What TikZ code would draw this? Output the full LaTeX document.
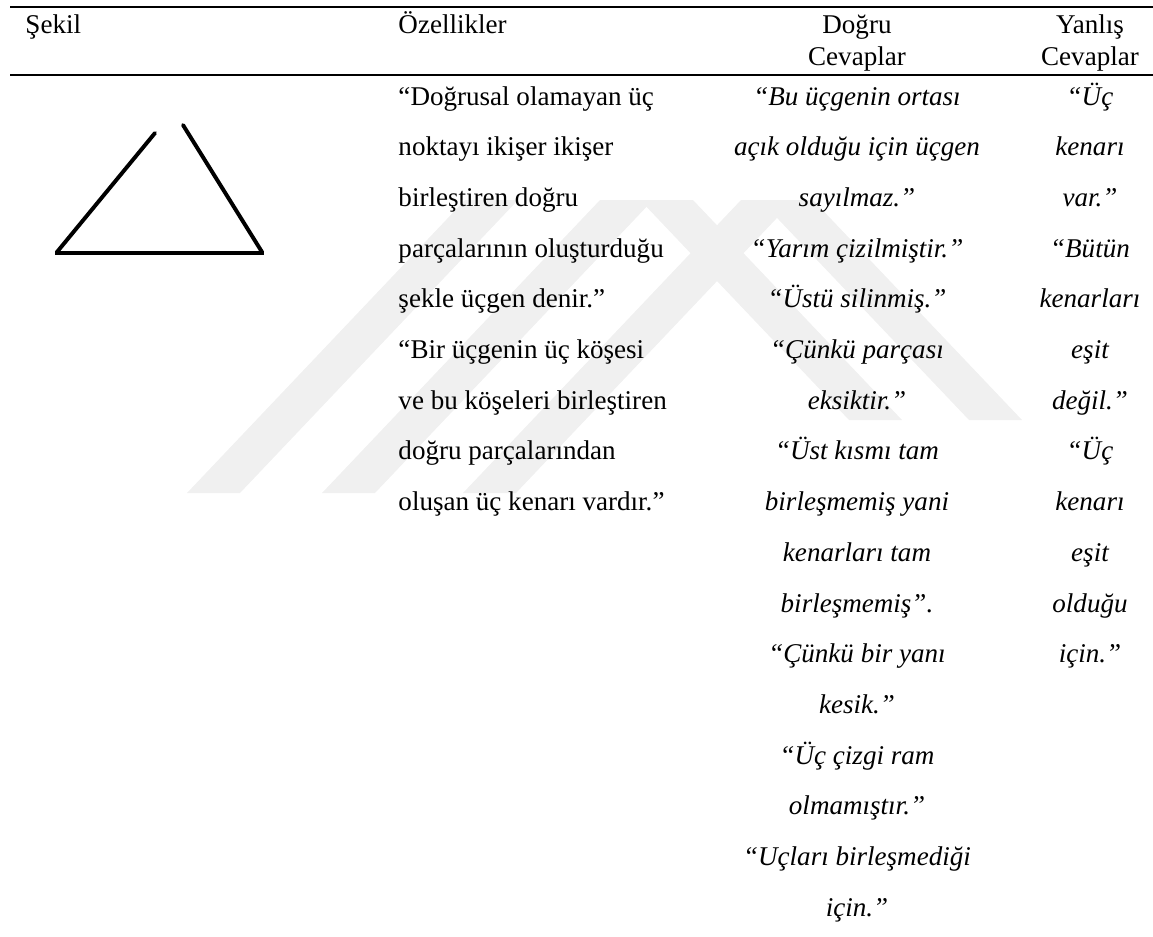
\documentclass[tikz,border=0pt]{standalone}
\usepackage{fontspec}
\setmainfont{Liberation Serif}
\tikzset{
  rule/.style={line width=0.8pt},
  band/.style={fill=black!6, draw=none},
  kenar/.style={line width=1.6pt, line cap=round},
  taban/.style={line width=2pt},
  solhucre/.style={inner sep=0pt, anchor=base west, font=\fontsize{11}{13}\selectfont},
  ortahucre/.style={inner sep=0pt, anchor=base, font=\fontsize{11}{13}\selectfont},
  cevap/.style={ortahucre, font=\fontsize{11}{13}\selectfont\itshape}
}

\begin{document}
\begin{tikzpicture}[x=0.4065pt, y=-0.4065pt]
		%%%%% START %%%%%
		\useasboundingbox (0, 0) rectangle (1153, 936);
		
		% soluk filigran
		\fill[band] (187, 493) -- (240, 493) -- (518, 200) -- (465, 200) -- cycle;
		\fill[band] (322, 493) -- (375, 493) -- (653, 200) -- (600, 200) -- cycle;
		\fill[band] (463, 493) -- (516, 493) -- (794, 200) -- (741, 200) -- cycle;
		\fill[band] (640, 200) -- (693, 200) -- (902, 420) -- (849, 420) -- cycle;
		\fill[band] (760, 200) -- (813, 200) -- (1022, 420) -- (969, 420) -- cycle;
		\fill[white] (20, 80) rectangle (318, 295);
		
		% tablo cizgileri
		\draw[rule] (10, 7) -- (1153, 7);
		\draw[rule] (10, 75) -- (1153, 75);
		
		% baslik
		\node[solhucre] (sekil) at (25, 33) {Şekil};
		\node[solhucre] (ozellik) at (398, 33) {Özellikler};
		\node[ortahucre] (dogruA) at (857, 33) {Doğru};
		\node[ortahucre] (dogruB) at (857, 65) {Cevaplar};
		\node[ortahucre] (yanlisA) at (1090, 33) {Yanlış};
		\node[ortahucre] (yanlisB) at (1090, 65) {Cevaplar};
		
		% sekil: ucu acik ucgen
		\draw[kenar] (57, 252) -- (155, 133);
		\draw[kenar] (183, 125) -- (262, 252);
		\draw[taban] (55, 253) -- (264, 253);
		
		% ozellikler
		\node[solhucre] (oz1) at (398, 105) {“Doğrusal olamayan üç};
		\node[solhucre] (oz2) at (398, 155.7) {noktayı ikişer ikişer};
		\node[solhucre] (oz3) at (398, 206.4) {birleştiren doğru};
		\node[solhucre] (oz4) at (398, 257.1) {parçalarının oluşturduğu};
		\node[solhucre] (oz5) at (398, 307.8) {şekle üçgen denir.”};
		\node[solhucre] (oz6) at (398, 358.5) {“Bir üçgenin üç köşesi};
		\node[solhucre] (oz7) at (398, 409.2) {ve bu köşeleri birleştiren};
		\node[solhucre] (oz8) at (398, 459.9) {doğru parçalarından};
		\node[solhucre] (oz9) at (398, 510.6) {oluşan üç kenarı vardır.”};
		
		% dogru cevaplar
		\node[cevap] (dc1) at (857, 105) {“Bu üçgenin ortası};
		\node[cevap] (dc2) at (857, 155.7) {açık olduğu için üçgen};
		\node[cevap] (dc3) at (857, 206.4) {sayılmaz.”};
		\node[cevap] (dc4) at (857, 257.1) {“Yarım çizilmiştir.”};
		\node[cevap] (dc5) at (857, 307.8) {“Üstü silinmiş.”};
		\node[cevap] (dc6) at (857, 358.5) {“Çünkü parçası};
		\node[cevap] (dc7) at (857, 409.2) {eksiktir.”};
		\node[cevap] (dc8) at (857, 459.9) {“Üst kısmı tam};
		\node[cevap] (dc9) at (857, 510.6) {birleşmemiş yani};
		\node[cevap] (dc10) at (857, 561.3) {kenarları tam};
		\node[cevap] (dc11) at (857, 612) {birleşmemiş”.};
		\node[cevap] (dc12) at (857, 662.7) {“Çünkü bir yanı};
		\node[cevap] (dc13) at (857, 713.4) {kesik.”};
		\node[cevap] (dc14) at (857, 764.1) {“Üç çizgi ram};
		\node[cevap] (dc15) at (857, 814.8) {olmamıştır.”};
		\node[cevap] (dc16) at (857, 865.5) {“Uçları birleşmediği};
		\node[cevap] (dc17) at (857, 916.2) {için.”};
		
		% yanlis cevaplar
		\node[cevap] (yc1) at (1090, 105) {“Üç};
		\node[cevap] (yc2) at (1090, 155.7) {kenarı};
		\node[cevap] (yc3) at (1090, 206.4) {var.”};
		\node[cevap] (yc4) at (1090, 257.1) {“Bütün};
		\node[cevap] (yc5) at (1090, 307.8) {kenarları};
		\node[cevap] (yc6) at (1090, 358.5) {eşit};
		\node[cevap] (yc7) at (1090, 409.2) {değil.”};
		\node[cevap] (yc8) at (1090, 459.9) {“Üç};
		\node[cevap] (yc9) at (1090, 510.6) {kenarı};
		\node[cevap] (yc10) at (1090, 561.3) {eşit};
		\node[cevap] (yc11) at (1090, 612) {olduğu};
		\node[cevap] (yc12) at (1090, 662.7) {için.”};
		
		%%%%% END %%%%%
	\end{tikzpicture}
\end{document}
